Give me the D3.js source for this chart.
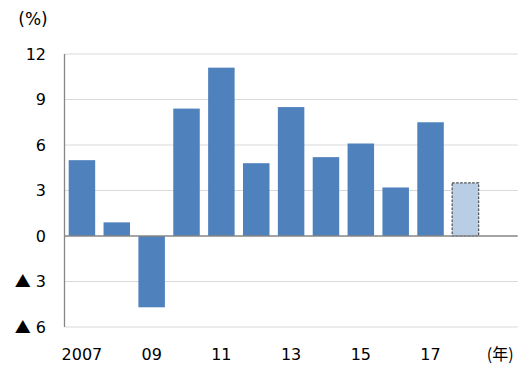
<!DOCTYPE html>
<html><head><meta charset="utf-8">
<script src="https://cdn.jsdelivr.net/npm/d3@7"></script>
<style>body{margin:0;background:#fff}svg{display:block}text{font-family:"DejaVu Sans",sans-serif;fill:#000}</style>
</head><body><svg id="c" width="530" height="383"></svg>
<script>
const categories = ["2007","2008","2009","2010","2011","2012","2013","2014","2015","2016","2017","2018","2019"];
const values = [5.0, 0.9, -4.7, 8.4, 11.1, 4.8, 8.5, 5.2, 6.1, 3.2, 7.5, 3.5, null];
const estimated = [false,false,false,false,false,false,false,false,false,false,false,true,false];
const xTickLabels = ["2007","","09","","11","","13","","15","","17","","(年)"];
const yTicks = [-6,-3,0,3,6,9,12];
const yTickLabels = ["▲ 6","▲ 3","0","3","6","9","12"];

const svg = d3.select("#c");
const L = 64.5, R = 517.7, T = 54, B = 327;
const x = d3.scaleBand().domain(categories).range([L, R]).paddingInner(0.24).paddingOuter(0.12);
const y = d3.scaleLinear().domain([-6, 12]).range([B, T]);
const cjk = '"Noto Sans CJK JP","DejaVu Sans",sans-serif';

svg.append("g").selectAll("line").data(yTicks.filter(d => d !== 0)).join("line")
  .attr("x1", L).attr("x2", R).attr("y1", d => y(d)).attr("y2", d => y(d))
  .attr("stroke", "#d9d9d9").attr("stroke-width", 1);

const data = categories.map((c, i) => ({c, v: values[i], e: estimated[i]})).filter(d => d.v !== null);
svg.append("g").selectAll("rect").data(data).join("rect")
  .attr("x", d => x(d.c)).attr("width", x.bandwidth())
  .attr("y", d => y(Math.max(0, d.v))).attr("height", d => Math.abs(y(d.v) - y(0)))
  .attr("fill", d => d.e ? "#b9cde5" : "#4f81bd")
  .attr("stroke", d => d.e ? "#4d4d4d" : "none")
  .attr("stroke-width", d => d.e ? 1.2 : 0)
  .attr("stroke-dasharray", d => d.e ? "2.5,1.5" : null);

svg.append("line").attr("x1", L).attr("x2", R).attr("y1", y(0)).attr("y2", y(0))
  .attr("stroke", "#868686").attr("stroke-width", 1.3);
svg.append("line").attr("x1", L).attr("x2", L).attr("y1", T).attr("y2", B)
  .attr("stroke", "#868686").attr("stroke-width", 1.3);

const yl = svg.append("g").selectAll("text").data(yTicks).join("text")
  .attr("x", 46).attr("y", d => y(d)).attr("dy", "0.36em")
  .attr("text-anchor", "end").attr("font-size", 16);
yl.each(function(d, i) {
  const t = d3.select(this), s = yTickLabels[i];
  if (s.startsWith("▲")) {
    t.append("tspan").style("font-family", cjk).text("▲");
    t.append("tspan").text(s.slice(1));
  } else t.text(s);
});

svg.append("g").selectAll("text").data(categories).join("text")
  .attr("x", d => x(d) + x.bandwidth() / 2).attr("y", 360)
  .attr("text-anchor", "middle").attr("font-size", 16)
  .style("font-family", (d, i) => i === 12 ? cjk : null)
  .text((d, i) => xTickLabels[i]);

svg.append("text").attr("x", 33).attr("y", 25).attr("text-anchor", "middle")
  .attr("font-size", 17).text("(%)");
</script></body></html>
